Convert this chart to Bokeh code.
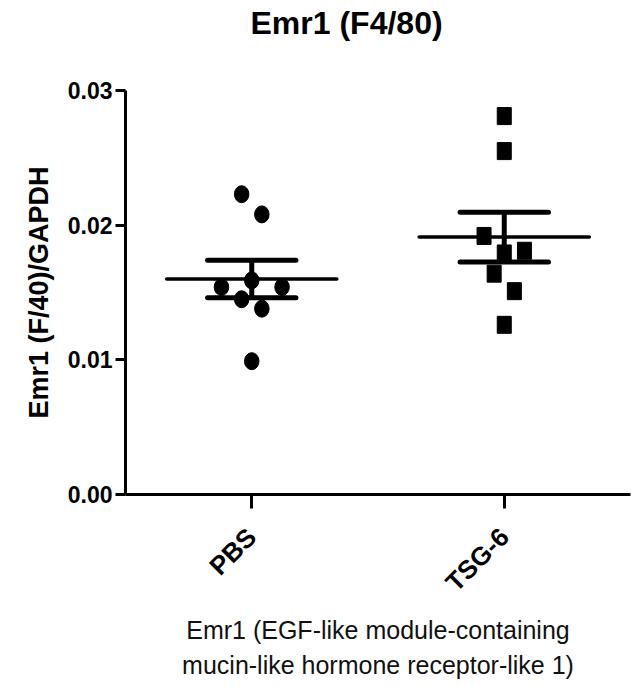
import math
import numpy as np
from bokeh.plotting import figure
from bokeh.models import Range1d, FixedTicker, NumeralTickFormatter, Title
from bokeh.embed import file_html
from bokeh.resources import INLINE

# ---- data ----
categories = ["PBS", "TSG-6"]
pbs_values = [0.0223, 0.0208, 0.0154, 0.0159, 0.0154, 0.0145, 0.0138, 0.0099]
tsg6_values = [0.0281, 0.0255, 0.0192, 0.0179, 0.0181, 0.0164, 0.0151, 0.0126]
# horizontal scatter arrangement (in half marker widths)
pbs_spread = [-1, 1, -3, 0, 3, -1, 1, 0]
tsg6_spread = [0, 0, -2, 0, 2, -1, 1, 0]
y_ticks = [0.0, 0.01, 0.02, 0.03]

title_text = "Emr1 (F4/80)"
y_label = "Emr1 (F/40)/GAPDH"
note_lines = ["Emr1 (EGF-like module-containing", "mucin-like hormone receptor-like 1)"]

FONT = "Liberation Sans"
STEP = 0.04  # data units per half marker width

p = figure(width=641, height=686, output_backend="svg", toolbar_location=None,
           x_range=Range1d(-0.5, 1.5), y_range=Range1d(0, 0.03),
           min_border_left=125, min_border_right=11, min_border_top=90, min_border_bottom=192)
p.title.text = ""
# spacer between frame and title, then the title itself
spacer = Title(text=" ", text_font_size="10px", standoff=35)
title = Title(text=title_text, text_font=FONT, text_font_style="bold",
              text_font_size="32px", text_color="black", align="left",
              offset=125, vertical_align="top", standoff=0)
p.add_layout(spacer, "above")
p.add_layout(title, "above")
p.outline_line_color = None
p.xgrid.visible = False
p.ygrid.visible = False
p.background_fill_color = "white"
p.border_fill_color = "white"

# axes
ax = p.xaxis[0]
ax.ticker = FixedTicker(ticks=list(range(len(categories))))
ax.major_label_overrides = {i: c for i, c in enumerate(categories)}
ax.major_label_orientation = math.pi / 4
ax.major_label_text_font = FONT
ax.major_label_text_font_style = "bold"
ax.major_label_text_font_size = "26px"
ax.major_label_text_color = "black"
ax.major_label_standoff = 24
ax.axis_line_width = 3
ax.axis_line_color = "black"
ax.major_tick_line_width = 3
ax.major_tick_line_color = "black"
ax.major_tick_out = 14
ax.major_tick_in = 0
ax.minor_tick_line_color = None
ax.axis_label = "\n".join(note_lines)
ax.axis_label_text_font = FONT
ax.axis_label_text_font_style = "normal"
ax.axis_label_text_font_size = "25px"
ax.axis_label_text_color = "#111111"
ax.axis_label_text_line_height = 1.24
ax.axis_label_standoff = 5

ay = p.yaxis[0]
ay.ticker = FixedTicker(ticks=y_ticks)
ay.formatter = NumeralTickFormatter(format="0.00")
ay.major_label_text_font = FONT
ay.major_label_text_font_style = "bold"
ay.major_label_text_font_size = "23px"
ay.major_label_text_color = "black"
ay.major_label_standoff = 3
ay.axis_line_width = 3
ay.axis_line_color = "black"
ay.major_tick_line_width = 3
ay.major_tick_line_color = "black"
ay.major_tick_out = 10
ay.major_tick_in = 0
ay.minor_tick_line_color = None
ay.axis_label = y_label
ay.axis_label_text_font = FONT
ay.axis_label_text_font_style = "bold"
ay.axis_label_text_font_size = "27px"
ay.axis_label_text_color = "black"
ay.axis_label_standoff = 11

# points
pbs_x = [0 + s * STEP for s in pbs_spread]
tsg_x = [1 + s * STEP for s in tsg6_spread]
p.ellipse(x=pbs_x, y=pbs_values, width=14.5, height=17, width_units="screen",
          height_units="screen", fill_color="black", line_color="black")
p.rect(x=tsg_x, y=tsg6_values, width=14, height=17, width_units="screen",
       height_units="screen", fill_color="black", line_color="black")

# mean +/- SEM
for i, vals in enumerate([pbs_values, tsg6_values]):
    arr = np.array(vals)
    m = arr.mean()
    sem = arr.std(ddof=1) / math.sqrt(len(arr))
    p.segment(x0=[i - 0.337], x1=[i + 0.337], y0=[m], y1=[m],
              line_color="black", line_width=3.5, line_cap="round")
    p.segment(x0=[i - 0.175, i - 0.175], x1=[i + 0.175, i + 0.175],
              y0=[m + sem, m - sem], y1=[m + sem, m - sem],
              line_color="black", line_width=5, line_cap="round")
    p.segment(x0=[i], x1=[i], y0=[m - sem], y1=[m + sem],
              line_color="black", line_width=5)

open("out.html", "w").write(file_html(p, INLINE))
